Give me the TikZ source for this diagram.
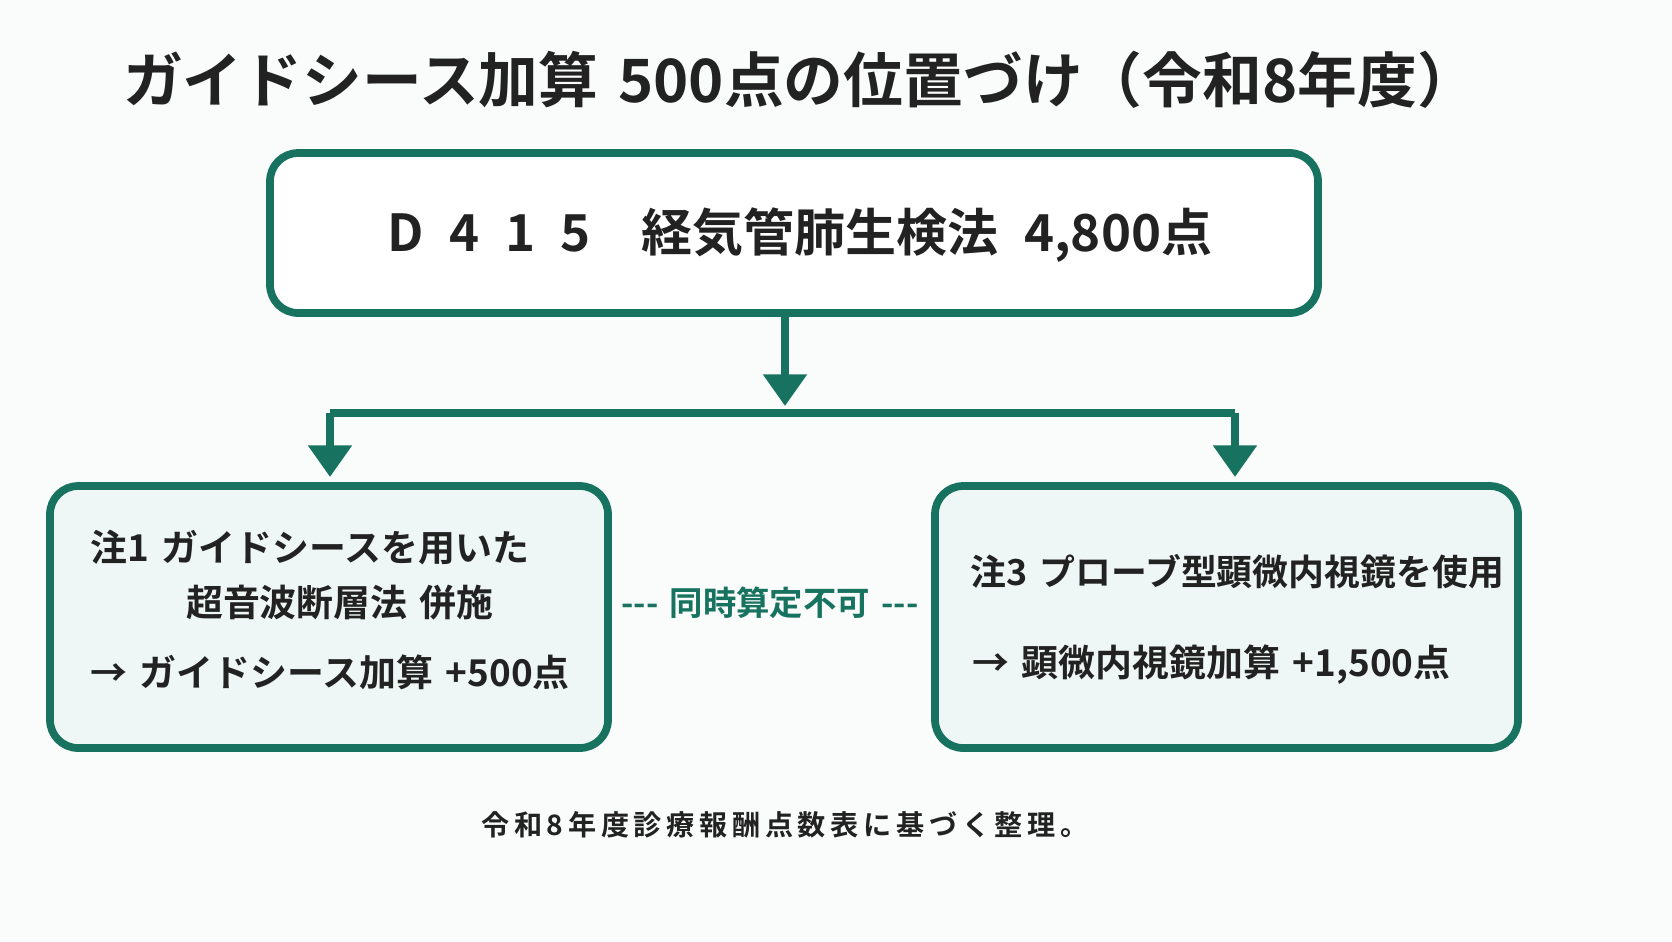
\documentclass[tikz,border=0pt]{standalone}
\usepackage{fontspec}
\setmainfont{Noto Sans CJK JP}[BoldFont={* Bold}]
\usetikzlibrary{arrows.meta,positioning}
\definecolor{tealline}{HTML}{17735F}
\definecolor{mintfill}{HTML}{EEF7F5}
\definecolor{inkdark}{HTML}{222222}
\definecolor{paper}{HTML}{FAFBFB}
\tikzset{
  box/.style={draw=tealline, line width=2.2pt, rounded corners=8pt},
  conn/.style={draw=tealline, line width=2.2pt},
  tip/.style={-{Triangle[length=9pt,width=12pt]}},
  txt/.style={text=inkdark, font=\bfseries, inner sep=0pt}
}
\begin{document}
\begin{tikzpicture}[x=0.01cm,y=-0.01cm]
  \fill[paper] (0,0) rectangle (1672,941);
  \useasboundingbox (0,0) rectangle (1672,941);
  \node[txt, font=\fontsize{17}{19}\bfseries\selectfont] (title) at (800,80) {ガイドシース加算\,\,500点の位置づけ（令和8年度）};
  % top box
  \draw[box, fill=white] (270,153) rectangle (1318,313);
  \node[txt, font=\fontsize{14.5}{16}\bfseries\selectfont] (maintxt) at (800,235) {D\,\,\,4\,\,\,1\,\,\,5\quad 経気管肺生検法\,\,\,4,800点};
  % branches
  \coordinate (stem) at (785,313);
  \coordinate (lsplit) at (330,413);
  \coordinate (rsplit) at (1235,413);
  \draw[conn, tip] (stem) -- (785,406);
  \draw[conn] (lsplit) -- (rsplit);
  \draw[conn, tip] (lsplit) -- (330,477);
  \draw[conn, tip] (rsplit) -- (1235,477);
  % lower boxes
  \draw[box, fill=mintfill] (50,486) rectangle (608,748);
  \draw[box, fill=mintfill] (935,486) rectangle (1518,748);
  \node[txt, anchor=west, font=\fontsize{10.5}{13}\bfseries\selectfont] (l1) at (90,548) {注1\,\,ガイドシースを用いた};
  \node[txt, font=\fontsize{10.5}{13}\bfseries\selectfont] (l2) at (340,603) {超音波断層法\,\,併施};
  \node[txt, anchor=west, font=\fontsize{10.5}{13}\bfseries\selectfont] (l3) at (90,672) {→\,\,ガイドシース加算\,\,+500点};
  \node[txt, anchor=west, font=\fontsize{10.2}{13}\bfseries\selectfont] (r1) at (970,572) {注3\,\,プローブ型顕微内視鏡を使用};
  \node[txt, anchor=west, font=\fontsize{10.5}{13}\bfseries\selectfont] (r2) at (972,665) {→\,\,顕微内視鏡加算\,\,+1,500点};
  \node[txt, text=tealline, font=\fontsize{9.5}{11}\bfseries\selectfont] (excl) at (770,603) {-{}-{}-\,\,同時算定不可\,\,-{}-{}-};
  \node[txt, font=\fontsize{8}{9}\bfseries\selectfont] (note) at (785,825) {令\,和\,8\,年\,度\,診\,療\,報\,酬\,点\,数\,表\,に\,基\,づ\,く\,整\,理\,。};
\end{tikzpicture}
\end{document}
